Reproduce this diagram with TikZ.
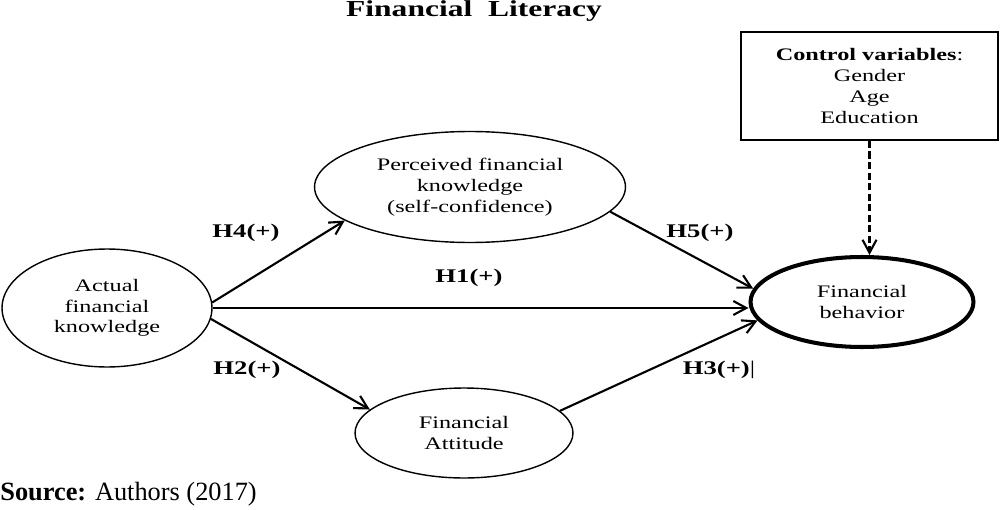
\documentclass[tikz,border=0pt]{standalone}
\usepackage{fontspec}
\setmainfont{Liberation Serif}[FakeStretch=1.38]
\newfontfamily\srcfont{Liberation Serif}
\usetikzlibrary{arrows.meta, shapes.geometric, positioning}

\tikzset{
  latent/.style={draw, ellipse, line width=0.8pt, inner sep=0pt, align=center,
    font=\fontsize{10}{11.8}\selectfont},
  ctrlbox/.style={draw, rectangle, line width=1.1pt, align=center,
    minimum width=5.14cm, minimum height=2.16cm,
    font=\fontsize{10}{11.8}\selectfont},
  hyp/.style={font=\fontsize{11}{13}\selectfont\bfseries, inner sep=0pt},
  causal/.style={->, line width=1.2pt}
}

\begin{document}
\begin{tikzpicture}[x=0.02cm, y=-0.02cm,
    >={Straight Barb[length=2.6mm,width=2.8mm]}]
  \useasboundingbox (0,0) rectangle (1000,510);
  \node (Title) [anchor=base, inner sep=0pt, font=\fontsize{13}{15}\selectfont\bfseries]
    at (474,17) {Financial\ \ Literacy};
  \node (Ctrl) [ctrlbox] at (869.5,86)
    {\textbf{Control variables}:\\Gender\\Age\\Education};
  \node (Actual) [latent, minimum width=4.2cm, minimum height=2.36cm]
    at (107,308) {Actual\\financial\\knowledge};
  \node (Perc) [latent, minimum width=6.22cm, minimum height=2.22cm]
    at (470,187) {Perceived financial\\knowledge\\(self-confidence)};
  \node (Behav) [latent, line width=2.3pt, minimum width=4.46cm, minimum height=1.8cm]
    at (862,302) {Financial\\behavior};
  \node (Attit) [latent, minimum width=4.36cm, minimum height=1.8cm]
    at (464,433) {Financial\\Attitude};
  % hypotheses
  \draw[causal] (Actual.3) -- (Perc.195);
  \draw[causal] (Actual.east) -- (Behav.west |- Actual.east);
  \draw[causal] (Actual.-6) -- (Attit.166);
  \draw[causal] (Perc.-10) -- (Behav.173);
  \draw[causal] (Attit.13) -- (Behav.190);
  \draw[causal, dash pattern=on 4pt off 2pt] (Ctrl.south) -- (Ctrl.south |- Behav.north);
  \node (H4) [hyp] at (246,233) {H4(+)};
  \node (H1) [hyp] at (469,278) {H1(+)};
  \node (H5) [hyp] at (700,233) {H5(+)};
  \node (H2) [hyp] at (247,370) {H2(+)};
  \node (H3) [hyp] at (719,370) {H3(+)\mdseries|};
  \node (Source) [anchor=base west, inner sep=0pt, font=\srcfont\fontsize{15}{18}\selectfont]
    at (0,500) {\textbf{Source:} Authors (2017)};
\end{tikzpicture}
\end{document}
